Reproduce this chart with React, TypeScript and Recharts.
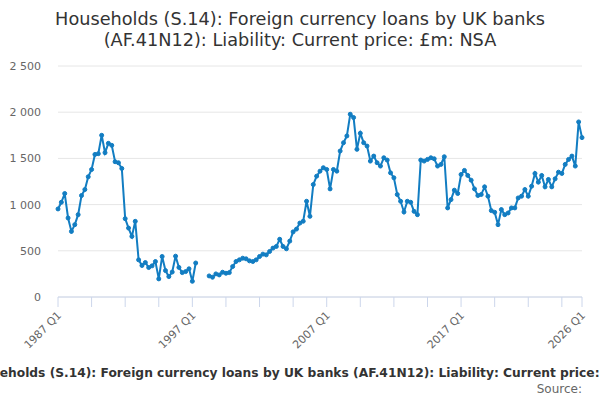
import { CartesianGrid, Line, LineChart, XAxis, YAxis } from "recharts"

// £m, quarterly
const values1987to1996 = [
  953, 1025, 1120, 855, 710, 783, 891, 1098, 1163, 1301,
  1380, 1543, 1551, 1750, 1562, 1663, 1641, 1464, 1453, 1391,
  848, 746, 656, 819, 402, 341, 373, 319, 337, 384,
  196, 438, 286, 221, 270, 442, 320, 264, 275, 305,
]
const values1997to2006 = [
  170, 368, null, null, null, 228, 214, 250, 239, 268,
  257, 264, 330, 384, 402, 420, 413, 391, 384, 402,
  438, 464, 456, 493, 529, 547, 625, 547, 522, 605,
  705, 735, 800, 820, 1036, 873, 1217, 1308, 1362, 1399,
]
const values2007to2016 = [
  1380, 1170, 1380, 1362, 1580, 1670, 1743, 1978, 1942, 1598,
  1772, 1670, 1634, 1471, 1525, 1453, 1417, 1507, 1482, 1344,
  1290, 1109, 1036, 920, 1036, 1025, 927, 891, 1482, 1471,
  1489, 1507, 1496, 1417, 1435, 1518, 964, 1054, 1156, 1120,
]
const values2017to2026 = [
  1326, 1370, 1315, 1264, 1170, 1098, 1109, 1192, 1091, 935,
  917, 783, 946, 891, 909, 964, 964, 1072, 1091, 1163,
  1091, 1199, 1337, 1243, 1315, 1192, 1272, 1192, 1279, 1351,
  1337, 1435, 1489, 1525, 1417, 1895, 1725,
]

const values = [
  ...values1987to1996,
  ...values1997to2006,
  ...values2007to2016,
  ...values2017to2026,
]

// period labels: 1987 Q1 .. 2026 Q1
const quarters: string[] = []
for (let year = 1987; year <= 2026; year++) {
  for (let q = 1; q <= 4; q++) {
    if (year === 2026 && q > 1) break
    quarters.push(`${year} Q${q}`)
  }
}

const tickQuarters = quarters.filter((_, i) => i % 10 === 0 || i === quarters.length - 1)
const labelledQuarters = ["1987 Q1", "1997 Q1", "2007 Q1", "2017 Q1", "2026 Q1"]
const yTicks = [0, 500, 1000, 1500, 2000, 2500]

const data = quarters.map((period, i) => ({ period, value: values[i] }))

const title1 = "Households (S.14): Foreign currency loans by UK banks"
const title2 = "(AF.41N12): Liability: Current price: £m: NSA"
const caption =
  "Households (S.14): Foreign currency loans by UK banks (AF.41N12): Liability: Current price: £m: NSA"

const lineColor = "#127dc2"
const font = "'DejaVu Sans', sans-serif"

function QuarterTick(props: any) {
  const { x, y, payload } = props
  if (!labelledQuarters.includes(payload.value)) return null
  const tx = x + 4
  const ty = y + 7
  return (
    <text
      x={tx}
      y={ty}
      textAnchor="end"
      fill="#666"
      fontSize={11}
      fontFamily={font}
      transform={`rotate(-45 ${tx} ${ty})`}
    >
      {payload.value}
    </text>
  )
}

const formatThousands = (v: number) => String(v).replace(/\B(?=(\d{3})+(?!\d))/g, " ")

export default function App() {
  return (
    <div
      style={{
        position: "absolute",
        left: 0,
        top: 0,
        width: 600,
        height: 400,
        background: "#fff",
        fontFamily: font,
      }}
    >
      <LineChart
        width={600}
        height={400}
        data={data}
        margin={{ top: 66, right: 18, left: 0, bottom: 43 }}
      >
        <CartesianGrid vertical={false} stroke="#e6e6e6" />
        <XAxis
          dataKey="period"
          ticks={tickQuarters}
          interval={0}
          height={60}
          tickSize={10}
          stroke="#ccd6eb"
          tick={<QuarterTick />}
        />
        <YAxis
          width={58}
          domain={[0, 2500]}
          ticks={yTicks}
          axisLine={false}
          tickLine={false}
          tickMargin={11}
          tick={{ fill: "#666", fontSize: 11, fontFamily: font }}
          tickFormatter={formatThousands}
        />
        <Line
          type="linear"
          dataKey="value"
          stroke={lineColor}
          strokeWidth={2}
          dot={{ r: 2, fill: lineColor, stroke: lineColor, strokeWidth: 1 }}
          isAnimationActive={false}
        />
      </LineChart>
      <svg
        width={600}
        height={400}
        style={{ position: "absolute", left: 0, top: 0, pointerEvents: "none" }}
      >
        <text x={300} y={25} textAnchor="middle" fontSize={17.7} fill="#333" fontFamily={font}>
          {title1}
        </text>
        <text x={300} y={46} textAnchor="middle" fontSize={17.7} fill="#333" fontFamily={font}>
          {title2}
        </text>
        <text x={-35} y={377} fontSize={12.25} fontWeight="bold" fill="#333" fontFamily={font}>
          {caption}
        </text>
        <text x={582} y={393} textAnchor="end" fontSize={12} fill="#666" fontFamily={font}>
          Source:
        </text>
      </svg>
    </div>
  )
}
